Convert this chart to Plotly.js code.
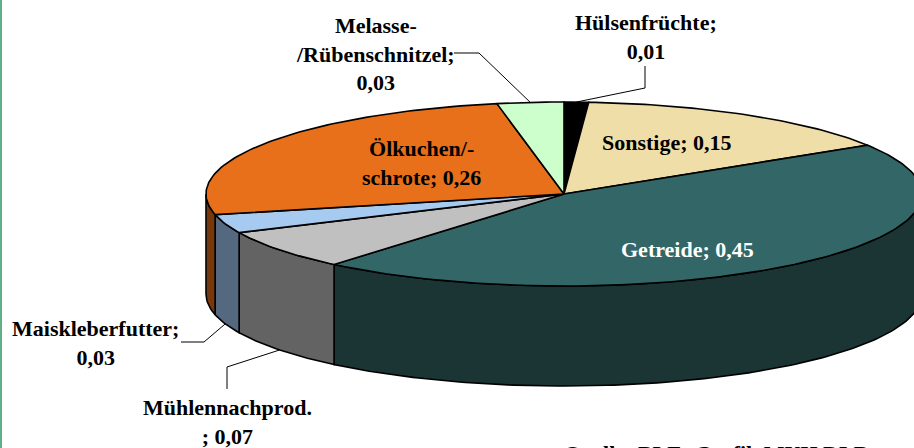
<!DOCTYPE html>
<html><head><meta charset="utf-8">
<script src="https://cdn.plot.ly/plotly-3.0.1.min.js"></script>
<style>html,body{margin:0;padding:0;background:#fff;overflow:hidden}#c{width:914px;height:448px}</style>
</head><body><div id="c"></div>
<script>
// Data, clockwise from 12 o'clock
const categories = ["Hülsenfrüchte","Sonstige","Getreide","Mühlennachprod.","Maiskleberfutter","Ölkuchen/-schrote","Melasse-/Rübenschnitzel"];
const values = [0.011,0.15,0.45,0.07,0.033,0.256,0.03];
const topColors = ["#000000","#f0dea8","#336666","#c0c0c0","#a6caf0","#e8701a","#ccffcc"];
const wallColors = ["#000000","#8a7a55","#1b3535","#636363","#54687f","#78380d","#668066"];

const cx=564, cy=194, rx=358, ry=92, depth=100;
const px=t=>cx+rx*Math.sin(t), py=t=>cy-ry*Math.cos(t);
const rad=d=>d*Math.PI/180;
const total=values.reduce((a,b)=>a+b,0);
let acc=0;
const spans=values.map(v=>{const a=acc/total*2*Math.PI; acc+=v; return [a,acc/total*2*Math.PI];});
const arc=(a,b,dy)=>{const n=Math.max(2,Math.ceil((b-a)/rad(1)));const X=[],Y=[];
  for(let i=0;i<=n;i++){const t=a+(b-a)*i/n;X.push(px(t));Y.push(py(t)+dy);}return [X,Y];};
const traces=[];
const poly=(X,Y,fill,name)=>traces.push({type:"scatter",mode:"lines",x:X,y:Y,fill:"toself",fillcolor:fill,
  line:{color:"#000",width:1.6},hoverinfo:"name",name,showlegend:false,cliponaxis:true});
// side walls (only the front half is visible)
spans.forEach((s,i)=>{
  const a=Math.max(s[0],Math.PI/2), b=Math.min(s[1],3*Math.PI/2);
  if(b<=a) return;
  const [xt,yt]=arc(a,b,0), [xb,yb]=arc(a,b,depth);
  poly(xt.concat(xb.slice().reverse(),[xt[0]]),yt.concat(yb.slice().reverse(),[yt[0]]),wallColors[i],categories[i]);
});
// top faces
spans.forEach((s,i)=>{
  const [xt,yt]=arc(s[0],s[1],0);
  poly([cx].concat(xt,[cx]),[cy].concat(yt,[cy]),topColors[i],categories[i]);
});
// leader lines: elbow in the label area, end anchored at the slice's mid-angle
const mid=i=>(spans[i][0]+spans[i][1])/2;
const leader=(pts,i,dy)=>{
  traces.push({type:"scatter",mode:"lines",x:pts.map(p=>p[0]).concat(px(mid(i))),y:pts.map(p=>p[1]).concat(py(mid(i))+dy),
    line:{color:"#000",width:1},hoverinfo:"skip",showlegend:false});
};
leader([[645,66],[645,88]],0,0);
leader([[454,53],[479,53]],6,0);
leader([[181,342],[204,342]],4,depth);
leader([[227,389],[227,367]],3,depth);

const F="'Liberation Serif','Times New Roman',serif";
const ann=(text,x,y,color)=>({text,x,y,xref:"x",yref:"y",showarrow:false,xanchor:"center",yanchor:"middle",align:"center",
  font:{family:F,size:22,color:color||"#000"}});
const b=s=>"<b>"+s+"</b>";
const annotations=[
 ann(b("Hülsenfrüchte;<br>0,01"),646,37),
 ann(b("Melasse-<br>/Rübenschnitzel;<br>0,03"),375,54),
 ann(b("Sonstige; 0,15"),667,142),
 ann(b("Ölkuchen/-<br>schrote; 0,26"),421,163),
 ann(b("Getreide; 0,45"),687,249,"#fff"),
 ann(b("Maiskleberfutter;<br>0,03"),95,343),
 ann(b("Mühlennachprod.<br>; 0,07"),227,422),
 {text:b("Quelle: BLE; Grafik MUH DLR"),x:562,y:439,xref:"x",yref:"y",showarrow:false,xanchor:"left",yanchor:"top",
  font:{family:F,size:22,color:"#000"}}
];
const layout={width:914,height:448,margin:{l:0,r:0,t:0,b:0},paper_bgcolor:"#fff",plot_bgcolor:"#fff",showlegend:false,
 xaxis:{range:[0,914],visible:false,fixedrange:true},
 yaxis:{range:[448,0],visible:false,fixedrange:true},
 annotations,
 shapes:[{type:"rect",xref:"paper",yref:"paper",x0:0,x1:2/914,y0:0,y1:1,fillcolor:"#5fb088",line:{width:0}}]};
Plotly.newPlot("c",traces,layout,{displayModeBar:false,staticPlot:true});
</script></body></html>
